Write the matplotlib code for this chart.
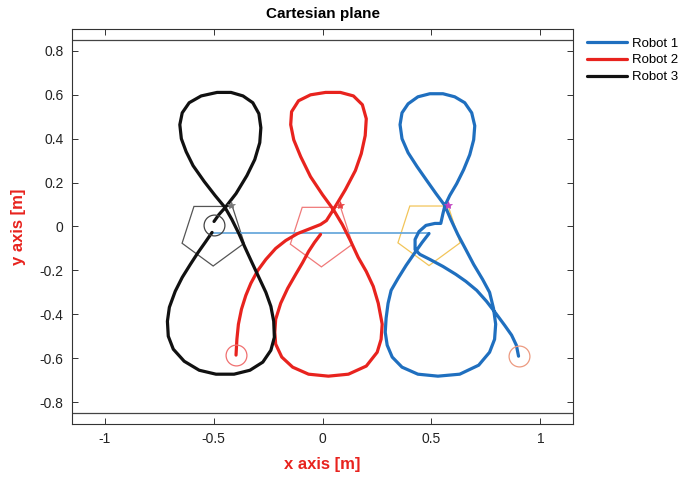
import matplotlib
matplotlib.use("Agg")
import matplotlib.pyplot as plt
from matplotlib.patches import RegularPolygon

plt.rcParams['font.family'] = ['Liberation Sans', 'DejaVu Sans']

# ---- data ----
robot_names = ["Robot 1", "Robot 2", "Robot 3"]
robot_colors = ["#1f6fbf", "#e8231e", "#111111"]

r1_x = [0.900, 0.890, 0.868, 0.836, 0.795, 0.753, 0.708, 0.658, 0.612, 0.553, 0.493, 0.447, 0.425, 0.425,
        0.443, 0.475, 0.516, 0.543, 0.553, 0.562, 0.584, 0.616, 0.648, 0.676, 0.694, 0.699, 0.685, 0.653,
        0.607, 0.553, 0.493, 0.438, 0.393, 0.365, 0.356, 0.365, 0.393, 0.434, 0.479, 0.521, 0.562, 0.589,
        0.621, 0.658, 0.694, 0.735, 0.767, 0.785, 0.795, 0.790, 0.767, 0.717, 0.630, 0.530, 0.438, 0.365,
        0.320, 0.297, 0.288, 0.292, 0.301, 0.315, 0.347, 0.384, 0.425, 0.457, 0.489]
r1_y = [-0.591, -0.541, -0.495, -0.450, -0.395, -0.341, -0.291, -0.250, -0.218, -0.182, -0.150, -0.127,
        -0.105, -0.059, -0.023, 0.005, 0.014, 0.014, 0.059, 0.095, 0.141, 0.195, 0.259, 0.327, 0.395, 0.459,
        0.518, 0.564, 0.591, 0.605, 0.605, 0.591, 0.559, 0.518, 0.464, 0.400, 0.336, 0.273, 0.209, 0.150,
        0.095, 0.032, -0.036, -0.105, -0.173, -0.241, -0.300, -0.373, -0.445, -0.514, -0.573, -0.632,
        -0.673, -0.682, -0.673, -0.641, -0.595, -0.541, -0.482, -0.418, -0.350, -0.291, -0.236, -0.177,
        -0.118, -0.073, -0.032]

r2_x = [-0.397, -0.393, -0.386, -0.372, -0.352, -0.329, -0.297, -0.260, -0.215, -0.169, -0.114, -0.055,
        -0.009, 0.018, 0.050, 0.078, 0.105, 0.151, 0.178, 0.196, 0.201, 0.183, 0.142, 0.082, 0.014, -0.055,
        -0.110, -0.142, -0.146, -0.132, -0.100, -0.055, 0.000, 0.050, 0.091, 0.128, 0.164, 0.201, 0.233,
        0.256, 0.274, 0.269, 0.251, 0.201, 0.119, 0.027, -0.064, -0.137, -0.187, -0.215, -0.219, -0.215,
        -0.192, -0.160, -0.123, -0.091, -0.064, -0.037, -0.009]
r2_y = [-0.586, -0.514, -0.445, -0.377, -0.314, -0.259, -0.200, -0.150, -0.100, -0.064, -0.032, -0.009,
        0.009, 0.027, 0.077, 0.123, 0.168, 0.255, 0.332, 0.414, 0.491, 0.555, 0.595, 0.611, 0.611, 0.600,
        0.573, 0.523, 0.464, 0.395, 0.318, 0.227, 0.145, 0.077, 0.009, -0.064, -0.141, -0.205, -0.273,
        -0.350, -0.445, -0.514, -0.573, -0.636, -0.673, -0.682, -0.673, -0.641, -0.595, -0.536, -0.482,
        -0.423, -0.350, -0.282, -0.218, -0.164, -0.114, -0.073, -0.036]

r3_x = [-0.498, -0.475, -0.447, -0.397, -0.347, -0.311, -0.288, -0.283, -0.292, -0.320, -0.365, -0.420,
        -0.484, -0.557, -0.612, -0.644, -0.655, -0.648, -0.626, -0.594, -0.543, -0.493, -0.447, -0.416,
        -0.384, -0.356, -0.324, -0.292, -0.260, -0.237, -0.224, -0.221, -0.237, -0.274, -0.333, -0.406,
        -0.489, -0.566, -0.635, -0.685, -0.708, -0.712, -0.703, -0.676, -0.644, -0.607, -0.571, -0.539,
        -0.507]
r3_y = [0.023, 0.055, 0.086, 0.150, 0.232, 0.305, 0.382, 0.450, 0.514, 0.564, 0.595, 0.611, 0.611, 0.595,
        0.564, 0.518, 0.464, 0.400, 0.341, 0.277, 0.205, 0.141, 0.086, 0.032, -0.032, -0.095, -0.164,
        -0.232, -0.300, -0.364, -0.432, -0.505, -0.564, -0.618, -0.655, -0.673, -0.673, -0.655, -0.614,
        -0.559, -0.500, -0.432, -0.368, -0.295, -0.232, -0.173, -0.118, -0.073, -0.027]

# current robot positions (robot 1, 2, 3) and formation pentagons
pos_x = [0.489, -0.005, -0.502]
pos_y = [-0.028, -0.034, -0.030]
pent_colors = ["#f2c55a", "#f07a7a", "#555555"]
pent_radius = 0.15

# target star markers
star_x = [0.575, 0.082, -0.42]
star_y = [0.10, 0.10, 0.10]
star_colors = ["#c040c0", "#e84040", "#777777"]

# circle markers
circ_x = [0.900, -0.397, -0.498]
circ_y = [-0.591, -0.586, 0.009]
circ_colors = ["#ec9a80", "#f07070", "#444444"]

bound_y = [0.85, -0.85]

x_ticks = [-1, -0.5, 0, 0.5, 1]
x_ticklabels = ["-1", "-0.5", "0", "0.5", "1"]
y_ticks = [-0.8, -0.6, -0.4, -0.2, 0, 0.2, 0.4, 0.6, 0.8]
y_ticklabels = ["-0.8", "-0.6", "-0.4", "-0.2", "0", "0.2", "0.4", "0.6", "0.8"]

# ---- figure ----
fig = plt.figure(figsize=(6.86, 4.86), dpi=100)
ax = fig.add_axes([72 / 686, 62 / 486, 501 / 686, 395 / 486])

for yb in bound_y:
    ax.axhline(yb, color="#444444", lw=0.9)

# formation pentagons
for cx, cy, pc in zip(pos_x, pos_y, pent_colors):
    ax.add_patch(RegularPolygon((cx, cy), numVertices=5, radius=pent_radius,
                                orientation=3.14159265, fill=False, edgecolor=pc, lw=0.9))

# connector line between robots
ax.plot([pos_x[2], pos_x[0]], [pos_y[0], pos_y[0]], color="#6aa9dc", lw=1.3)

lines = []
for xs, ys, c, n in zip([r1_x, r2_x, r3_x], [r1_y, r2_y, r3_y], robot_colors, robot_names):
    ln, = ax.plot(xs, ys, color=c, lw=2.3, label=n, solid_joinstyle="round", solid_capstyle="round")
    lines.append(ln)

for cx, cy, cc in zip(circ_x, circ_y, circ_colors):
    ax.plot(cx, cy, 'o', ms=15, mfc="none", mec=cc, mew=0.9)

for sx, sy, sc in zip(star_x, star_y, star_colors):
    ax.plot(sx, sy, '*', ms=6, color=sc, mew=0.5)

ax.set_xlim(-1.15, 1.15)
ax.set_ylim(-0.9, 0.9)
ax.set_xticks(x_ticks)
ax.set_xticklabels(x_ticklabels)
ax.set_yticks(y_ticks)
ax.set_yticklabels(y_ticklabels)
ax.tick_params(direction="in", top=True, right=True, labelsize=10, length=4, width=0.7,
               colors="#333333", labelcolor="#222222", pad=6)
for s in ax.spines.values():
    s.set_linewidth(0.8)
    s.set_color("#333333")

ax.set_title("Cartesian plane", fontsize=11, fontweight="bold", pad=8)
ax.set_xlabel("x axis [m]", fontsize=12, fontweight="bold", color="#e8231e", labelpad=8)
ax.set_ylabel("y axis [m]", fontsize=12, fontweight="bold", color="#e8231e", labelpad=10)

fig.legend(handles=lines, loc="upper left", bbox_to_anchor=(582 / 686, 1 - 32 / 486),
           frameon=False, fontsize=9.5, handlelength=3.0, handletextpad=0.4, labelspacing=0.35,
           borderaxespad=0)

fig.savefig("out.png", dpi=100)
